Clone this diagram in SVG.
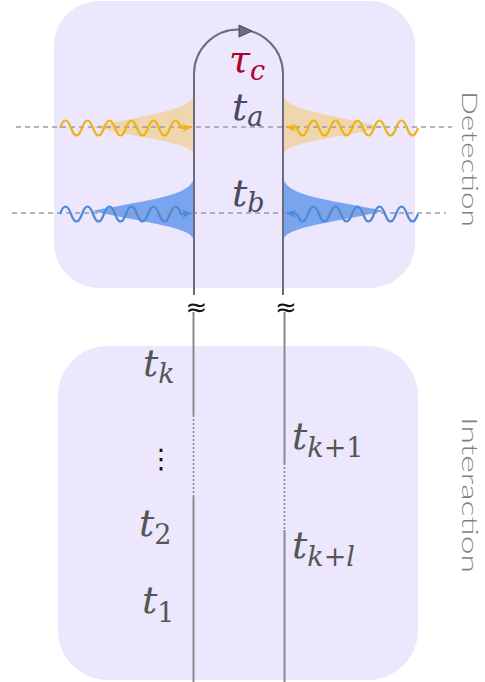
<svg xmlns="http://www.w3.org/2000/svg" width="485" height="682" viewBox="0 0 485 682">
  <defs>
    <style>
      .box { fill: #ece7fc; }
      .dash { stroke: #9c9aa4; stroke-width: 1.3; stroke-dasharray: 5 4; fill: none; }
      .wy { stroke: #efb315; stroke-width: 2.2; fill: none; }
      .wb { stroke: #4e88d8; stroke-width: 2.2; fill: none; }
      .envy { fill: #f0d6ae; }
      .envb { fill: #78a5ee; }
      .top { stroke: #6e6b80; stroke-width: 2; fill: none; }
      .low { stroke: #8a8a8e; stroke-width: 2; fill: none; }
      .dot { stroke: #8a8a8e; stroke-width: 1.6; stroke-dasharray: 2 2; fill: none; }
      .m { font-family: "DejaVu Serif", "Liberation Serif", serif; font-style: italic; font-size: 38px; }
      .s { font-size: 27px; }
      .n { font-style: normal; }
      .tl { fill: #4b4860; }
      .bl { fill: #555555; }
      .side { font-family: Lato, "Open Sans", sans-serif; font-weight: 300; font-size: 21px; fill: #7f7f7f; }
      .approx { font-family: "DejaVu Sans", sans-serif; font-size: 26px; fill: #111; }
    </style>
    <marker id="ay" viewBox="0 0 10 8" refX="9" refY="4" markerWidth="10" markerHeight="8" markerUnits="userSpaceOnUse" orient="auto">
      <path d="M0,0 L10,4 L0,8 L3,4 z" fill="#efb315"/>
    </marker>
    <marker id="ab" viewBox="0 0 10 8" refX="9" refY="4" markerWidth="10" markerHeight="8" markerUnits="userSpaceOnUse" orient="auto">
      <path d="M0,0 L10,4 L0,8 L3,4 z" fill="#4e88d8"/>
    </marker>
  </defs>

  <g id="detection-box">
    <rect class="box" x="54" y="1" width="361" height="287" rx="45"/>
  </g>
  <g id="interaction-box">
    <rect class="box" x="58" y="346" width="360" height="334" rx="50"/>
  </g>

  <g id="envelopes">
    <path class="envy" d="M194,95 C190,110 152,114 92,127 C152,140 190,143 194,154 Z"/>
    <path class="envy" d="M283,95 C287,110 325,114 385,127 C325,140 287,143 283,154 Z"/>
    <path class="envb" d="M194,178 C190,196 152,199 92,211 C152,224 190,227 194,240 Z"/>
    <path class="envb" d="M283,178 C287,196 325,199 385,211 C325,224 287,227 283,240 Z"/>
  </g>

  <g id="dashed-lines">
    <line class="dash" x1="16" y1="127" x2="452" y2="127"/>
    <line class="dash" x1="12" y1="213" x2="446" y2="213"/>
  </g>

  <g id="connectors">
    <path class="wy" marker-end="url(#ay)" d="M60,128 q5.5,-15 11,0 t11,0 t11,0 t11,0 t11,0 t11,0 t11,0 t11,0 t11,0 t11,0 t11,0 l10,-1"/>
    <path class="wy" marker-end="url(#ay)" d="M418,128 q-5.5,15 -11,0 t-11,0 t-11,0 t-11,0 t-11,0 t-11,0 t-11,0 t-11,0 t-11,0 t-11,0 t-11,0 l-10,-1"/>
    <path class="wb" marker-end="url(#ab)" d="M60,214 q5.5,-15 11,0 t11,0 t11,0 t11,0 t11,0 t11,0 t11,0 t11,0 t11,0 t11,0 t11,0 l10,-1"/>
    <path class="wb" marker-end="url(#ab)" d="M418,214 q-5.5,15 -11,0 t-11,0 t-11,0 t-11,0 t-11,0 t-11,0 t-11,0 t-11,0 t-11,0 t-11,0 t-11,0 l-10,-1"/>

    <path class="top" d="M194,295 V74 A44.5,44.5 0 0 1 283,74 V295"/>
    <path d="M239,25 L252,31 L239,37 Z" fill="#6e6b80" stroke="#4a4858" stroke-width="1"/>

    <line class="low" x1="193.5" y1="312" x2="193.5" y2="415"/>
    <line class="dot" x1="193.5" y1="415" x2="193.5" y2="497"/>
    <line class="low" x1="193.5" y1="497" x2="193.5" y2="682"/>
    <line class="low" x1="284.5" y1="312" x2="284.5" y2="463"/>
    <line class="dot" x1="284.5" y1="463" x2="284.5" y2="530"/>
    <line class="low" x1="284.5" y1="530" x2="284.5" y2="682"/>
  </g>

  <g id="breaks">
    <text class="approx" x="196.5" y="316" text-anchor="middle">≈</text>
    <text class="approx" x="286" y="316" text-anchor="middle">≈</text>
  </g>

  <g id="labels-top">
    <text class="m" x="229" y="72" fill="#b3002b">τ<tspan class="s" dy="8">c</tspan></text>
    <text class="m tl" x="232" y="120">t<tspan class="s" dy="6">a</tspan></text>
    <text class="m tl" x="232" y="206">t<tspan class="s" dy="6">b</tspan></text>
  </g>

  <g id="labels-bottom">
    <text class="m bl" x="143" y="376">t<tspan class="s" dy="7">k</tspan></text>
    <text x="161" y="468" text-anchor="middle" font-family="DejaVu Sans, sans-serif" font-size="27" fill="#111">⋮</text>
    <text class="m bl" x="139" y="536">t<tspan class="s n" dy="8">2</tspan></text>
    <text class="m bl" x="142" y="613">t<tspan class="s n" dy="9">1</tspan></text>
    <text class="m bl" x="292" y="449">t<tspan class="s" dy="8">k</tspan><tspan class="s n">+1</tspan></text>
    <text class="m bl" x="292" y="558">t<tspan class="s" dy="8">k</tspan><tspan class="s n">+</tspan><tspan class="s">l</tspan></text>
  </g>

  <g id="side-labels">
    <text class="side" transform="translate(462,159) rotate(90)" text-anchor="middle" textLength="136" lengthAdjust="spacingAndGlyphs">Detection</text>
    <text class="side" transform="translate(462,495) rotate(90)" text-anchor="middle" textLength="156" lengthAdjust="spacingAndGlyphs">Interaction</text>
  </g>
</svg>
